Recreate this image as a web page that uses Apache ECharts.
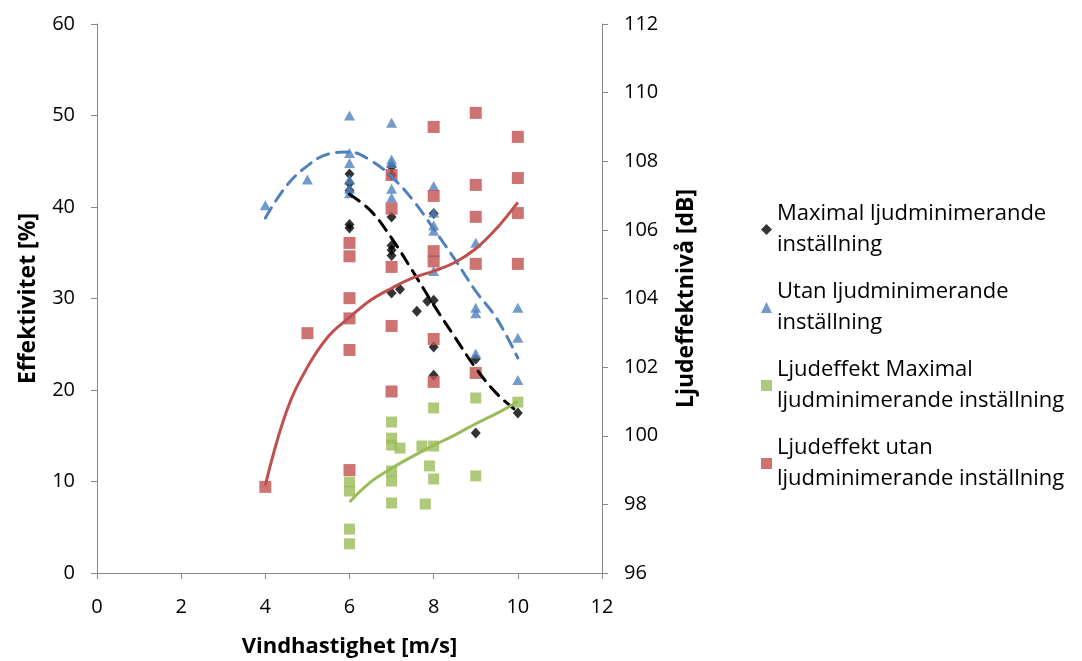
<!DOCTYPE html>
<html>
<head>
<meta charset="utf-8">
<script src="https://cdn.jsdelivr.net/npm/echarts@6/dist/echarts.min.js"></script>
<style>
html,body{margin:0;padding:0;background:#fff;}
#c{width:1082px;height:661px;}
</style>
</head>
<body>
<div id="c"></div>
<script>
// ---- Data ----
const seriesNames = [
  'Maximal ljudminimerande inställning',
  'Utan ljudminimerande inställning',
  'Ljudeffekt Maximal ljudminimerande inställning',
  'Ljudeffekt utan ljudminimerande inställning'
];
const legendLines = [
  'Maximal ljudminimerande\ninställning',
  'Utan ljudminimerande\ninställning',
  'Ljudeffekt Maximal\nljudminimerande inställning',
  'Ljudeffekt utan\nljudminimerande inställning'
];

// Effektivitet [%], left axis
const xMax = [6,6,6,6,6, 7,7,7,7,7,7,7, 7.2, 7.6, 7.85, 8, 8, 8, 8, 9, 9, 10];
const yMax = [43.6,42.6,41.8,38.1,37.7, 44.4,43.5,38.9,35.8,35.3,34.7,30.6, 31.0, 28.6, 29.7, 29.8, 39.3, 24.7, 21.6, 23.4, 15.3, 17.5];

const xUtan = [4,5,6,6,6,6,6,6,7,7,7,7,7,8,8,8,8,8,9,9,9,9,10,10,10];
const yUtan = [40.2,43.0,50.0,45.9,44.8,43.0,42.0,41.5,49.2,45.2,44.8,42.0,41.0,42.3,39.4,38.0,37.4,33.0,36.1,29.0,28.4,24.0,29.0,25.7,21.1];

// Ljudeffektnivå [dB], right axis
const xLjMax = [6,6,6,6, 7,7,7,7,7,7, 7.2, 7.72,7.9,7.8, 8,8,8, 9,9, 10];
const yLjMax = [98.65,98.39,97.28,96.85, 100.40,99.93,99.73,98.97,98.68,98.04, 99.64, 99.70,99.12,98.01, 100.81,99.70,98.74, 101.10,98.83, 100.98];

const xLjUtan = [4,5,6,6,6,6,6,6, 7,7,7,7,7, 8,8,8,8,8,8, 9,9,9,9,9, 10,10,10,10];
const yLjUtan = [98.51,102.99, 105.62,105.23,104.01,103.42,102.50,99.00, 107.60,106.62,104.92,103.20,101.29, 109.00,106.99,105.38,105.08,102.82,101.57, 109.41,107.31,106.38,105.01,101.83, 108.71,107.51,106.49,105.01];

// Trendlines
const trendMaxX = [6,6.5,7,7.5,8,8.5,9,9.5,10];
const trendMaxY = [41.4,39.6,36.6,33.0,29.3,25.8,22.4,19.6,17.6];
const trendUtanX = [4,4.5,5,5.5,6,6.5,7,7.5,8,8.5,9,9.5,10];
const trendUtanY = [38.8,42.3,44.5,45.8,46.0,45.1,43.3,40.8,37.6,34.3,30.8,27.8,23.5];
const trendLjMaxX = [6,6.5,7,7.5,8,8.5,9,9.5,10];
const trendLjMaxY = [98.07,98.65,99.05,99.40,99.72,100.02,100.35,100.65,101.0];
const trendLjUtanX = [4,4.5,5,5.5,6,6.5,7,7.5,8,8.5,9,9.5,10];
const trendLjUtanY = [98.55,100.7,102.0,102.9,103.45,103.95,104.3,104.6,104.8,105.05,105.45,106.05,106.8];

const xTicks = [0,2,4,6,8,10,12];
const leftTicks = [0,10,20,30,40,50,60];
const rightTicks = [96,98,100,102,104,106,108,110,112];

const colors = ['#000000','#4F81BD','#9BBB59','#C0504D'];
const pair = (xs, ys) => xs.map((x, i) => [x, ys[i]]);

const FONT = 'Open Sans';
const axisGray = '#868686';

const chart = echarts.init(document.getElementById('c'), null, {renderer:'canvas'});
chart.setOption({
  animation: false,
  backgroundColor: '#ffffff',
  textStyle: {fontFamily: FONT},
  grid: {left: 97, top: 24, right: 480, bottom: 88, containLabel: false, outerBoundsMode: 'none'},
  legend: {
    orient: 'vertical',
    left: 756,
    top: 178,
    itemWidth: 11,
    itemHeight: 11,
    itemGap: -15,
    data: seriesNames,
    formatter: name => legendLines[seriesNames.indexOf(name)],
    textStyle: {fontFamily: FONT, fontSize: 22, color: '#000', lineHeight: 31, padding: [31,0,0,0]}
  },
  xAxis: {
    type: 'value', min: xTicks[0], max: xTicks[xTicks.length-1], interval: 2,
    name: 'Vindhastighet [m/s]', nameLocation: 'middle', nameGap: 63,
    nameTextStyle: {fontFamily: FONT, fontSize: 22, fontWeight: 'bold', color: '#000'},
    axisLine: {show: true, lineStyle: {color: axisGray, width: 1}},
    axisTick: {show: true, length: 6, inside: false, lineStyle: {color: axisGray}},
    axisLabel: {fontFamily: FONT, fontSize: 20, color: '#000', margin: 24},
    splitLine: {show: false}
  },
  yAxis: [{
    type: 'value', min: leftTicks[0], max: leftTicks[leftTicks.length-1], interval: 10,
    position: 'left',
    name: 'Effektivitet [%]', nameLocation: 'middle', nameGap: 57,
    nameTextStyle: {fontFamily: FONT, fontSize: 23, fontWeight: 'bold', color: '#000'},
    axisLine: {show: true, lineStyle: {color: axisGray, width: 1}},
    axisTick: {show: true, length: 6, inside: false, lineStyle: {color: axisGray}},
    axisLabel: {fontFamily: FONT, fontSize: 20, color: '#000', margin: 22},
    splitLine: {show: false}
  }, {
    type: 'value', min: rightTicks[0], max: rightTicks[rightTicks.length-1], interval: 2,
    position: 'right',
    name: 'Ljudeffektnivå [dB]', nameLocation: 'middle', nameGap: 73,
    nameTextStyle: {fontFamily: FONT, fontSize: 23, fontWeight: 'bold', color: '#000'},
    axisLine: {show: true, lineStyle: {color: axisGray, width: 1}},
    axisTick: {show: true, length: 6, inside: false, lineStyle: {color: axisGray}},
    axisLabel: {fontFamily: FONT, fontSize: 20, color: '#000', margin: 22},
    splitLine: {show: false}
  }],
  series: [
    {name: seriesNames[0], type: 'scatter', yAxisIndex: 0, symbol: 'diamond', symbolSize: [10,11],
     itemStyle: {color: colors[0]}, data: pair(xMax, yMax), z: 2},
    {name: seriesNames[1], type: 'scatter', yAxisIndex: 0, symbol: 'triangle', symbolSize: [11,10],
     itemStyle: {color: colors[1]}, data: pair(xUtan, yUtan), z: 3},
    {name: seriesNames[2], type: 'scatter', yAxisIndex: 1, symbol: 'rect', symbolSize: 11,
     itemStyle: {color: colors[2]}, data: pair(xLjMax, yLjMax), z: 4},
    {name: seriesNames[3], type: 'scatter', yAxisIndex: 1, symbol: 'rect', symbolSize: 12,
     itemStyle: {color: colors[3]}, data: pair(xLjUtan, yLjUtan), z: 5},
    {name: 'trend0', type: 'line', yAxisIndex: 0, smooth: 0.4, showSymbol: false, symbol: 'none',
     lineStyle: {color: colors[0], width: 3, type: [12, 8], cap: 'round'}, data: pair(trendMaxX, trendMaxY), z: 6},
    {name: 'trend1', type: 'line', yAxisIndex: 0, smooth: 0.4, showSymbol: false, symbol: 'none',
     lineStyle: {color: colors[1], width: 3, type: [12, 8], cap: 'round'}, data: pair(trendUtanX, trendUtanY), z: 6},
    {name: 'trend2', type: 'line', yAxisIndex: 1, smooth: 0.4, showSymbol: false, symbol: 'none',
     lineStyle: {color: colors[2], width: 3}, data: pair(trendLjMaxX, trendLjMaxY), z: 6},
    {name: 'trend3', type: 'line', yAxisIndex: 1, smooth: 0.4, showSymbol: false, symbol: 'none',
     lineStyle: {color: colors[3], width: 3}, data: pair(trendLjUtanX, trendLjUtanY), z: 6}
  ]
});
</script>
</body>
</html>
